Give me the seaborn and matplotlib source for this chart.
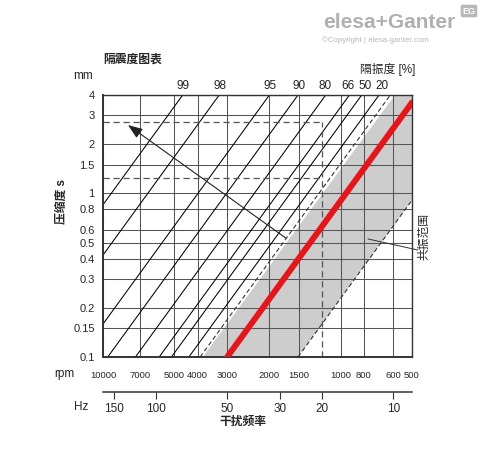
import numpy as np
import pandas as pd
import matplotlib
matplotlib.use("Agg")
import matplotlib.pyplot as plt
from matplotlib.ticker import NullLocator
import seaborn as sns

# datos
rpm_ticks = [10000, 7000, 5000, 4000, 3000, 2000, 1500, 1000, 800, 600, 500]
s_ticks = [0.1, 0.15, 0.2, 0.3, 0.4, 0.5, 0.6, 0.8, 1, 1.5, 2, 3, 4]
s_labels = ['0.1', '0.15', '0.2', '0.3', '0.4', '0.5', '0.6', '0.8', '1', '1.5', '2', '3', '4']
hz_ticks = [150, 100, 50, 30, 20, 10]

# lineas de aislamiento (inicio y fin)
iso_names = ['99', '98', '95', '90', '80', '66', '50', '20']
iso_rpm_a = [10000, 10000, 10000, 9550, 7300, 5800, 5150, 4350]
iso_s_a = [0.853, 0.420, 0.159, 0.1, 0.1, 0.1, 0.1, 0.1]
iso_rpm_b = [4617, 3241, 1992, 1510, 1154, 917, 814, 688]
iso_s_b = [4, 4, 4, 4, 4, 4, 4, 4]
iso_label_rpm = [4604, 3216, 1980, 1496, 1162, 930, 788, 669]

# linea de resonancia y banda
red_rpm = [3000, 500]
red_s = [0.1, 3.6]
dash_lo_rpm = [3900, 617]
dash_lo_s = [0.1, 4]
dash_hi_rpm = [1510, 500]
dash_hi_s = [0.1, 0.91]
band_rpm = [3800, 1510, 500, 500, 590]
band_s = [0.1, 0.1, 0.91, 4, 4]

# ejemplo (lineas punteadas y flecha)
ex_rpm = 1200
ex_s = [2.75, 1.25]
arrow_from = (1700, 0.534)
arrow_to = (7850, 2.62)
res_point = (766, 0.527)
res_text_end = (472, 0.451)

sns.set_style("white")
plt.rcParams['font.family'] = ['Liberation Sans', 'Noto Sans CJK SC', 'DejaVu Sans']

W, H = 488, 454
fig = plt.figure(figsize=(W / 100, H / 100), dpi=100)
ax = fig.add_axes([103 / W, 97 / H, 309 / W, 262 / H])

def fx(px):
    return px / W

def fy(py):
    return 1 - py / H

# banda gris
ax.fill(band_rpm, band_s, color='#cdcdcd', lw=0, zorder=0.5)

# lineas diagonales
rows = []
for i, n in enumerate(iso_names):
    rows.append({'rpm': iso_rpm_a[i], 's': iso_s_a[i], 'linea': n})
    rows.append({'rpm': iso_rpm_b[i], 's': iso_s_b[i], 'linea': n})
iso_df = pd.DataFrame(rows)
sns.lineplot(data=iso_df, x='rpm', y='s', units='linea', estimator=None,
             sort=False, color='black', lw=0.75, ax=ax, zorder=2)

ax.plot(dash_lo_rpm, dash_lo_s, color='#333333', lw=0.8, ls=(0, (4, 2.5)), zorder=2)
ax.plot(dash_hi_rpm, dash_hi_s, color='#333333', lw=0.8, ls=(0, (4, 2.5)), zorder=2)

sns.lineplot(x=red_rpm, y=red_s, color='#e3161b', lw=4.3, ax=ax, zorder=3)

# punteadas de ejemplo
for v in ex_s:
    ax.plot([10000, ex_rpm], [v, v], color='#555555', lw=0.9, ls=(0, (5, 3)), zorder=2)
ax.plot([ex_rpm, ex_rpm], [0.1, ex_s[0]], color='#555555', lw=0.9, ls=(0, (5, 3)), zorder=2)

ax.annotate('', xy=arrow_to, xytext=arrow_from, xycoords='data', textcoords='data',
            arrowprops=dict(arrowstyle='-|>,head_length=0.8,head_width=0.3',
                            color='#222222', lw=0.8, mutation_scale=11,
                            shrinkA=0, shrinkB=0), zorder=4)

ax.plot([res_point[0], res_text_end[0]], [res_point[1], res_text_end[1]],
        color='#333333', lw=0.7, clip_on=False, zorder=4)

ax.set_xscale('log')
ax.set_yscale('log')
ax.set_xlim(10000, 500)
ax.set_ylim(0.1, 4)
ax.set_xticks(rpm_ticks)
ax.set_xticklabels([str(t) for t in rpm_ticks], fontsize=6.8)
ax.set_yticks(s_ticks)
ax.set_yticklabels(s_labels, fontsize=8)
ax.xaxis.set_minor_locator(NullLocator())
ax.yaxis.set_minor_locator(NullLocator())
ax.tick_params(axis='x', length=0, pad=10)
ax.tick_params(axis='y', length=0, pad=6)
ax.set_xlabel('')
ax.set_ylabel('')
ax.grid(True, color='#555555', lw=0.75)
for side in ['left', 'bottom']:
    ax.spines[side].set_linewidth(1.4)
    ax.spines[side].set_color('#333333')
for side in ['top', 'right']:
    ax.spines[side].set_linewidth(1.0)
    ax.spines[side].set_color('#333333')

# eje Hz
sec = ax.secondary_xaxis(-35 / 262, functions=(lambda x: x / 60, lambda x: x * 60))
sec.set_xticks(hz_ticks)
sec.set_xticklabels([str(t) for t in hz_ticks], fontsize=8.5)
sec.xaxis.set_minor_locator(NullLocator())
sec.tick_params(axis='x', length=5, width=0.8, color='#333333', pad=3)
sec.spines['bottom'].set_linewidth(1.1)
sec.spines['bottom'].set_color('#333333')

# etiquetas de aislamiento
for n, r in zip(iso_names, iso_label_rpm):
    ax.text(r, 1 + 3 / 262, n, transform=ax.get_xaxis_transform(), ha='center',
            va='bottom', fontsize=8.5, color='#222222')

fig.text(fx(103), fy(60), '隔震度图表', fontsize=8.5, fontweight='bold', ha='left', va='center')
fig.text(fx(415), fy(69), '隔振度 [%]', fontsize=8.5, ha='right', va='center')
fig.text(fx(83), fy(76), 'mm', fontsize=8.5, ha='center', va='center')
fig.text(fx(64), fy(374), 'rpm', fontsize=8.5, ha='center', va='center')
fig.text(fx(81), fy(407), 'Hz', fontsize=8.5, ha='center', va='center')
fig.text(fx(62), fy(201), '压缩度 s', fontsize=8.5, fontweight='bold', rotation=90,
         ha='center', va='center')
fig.text(fx(243), fy(422), '干扰频率', fontsize=8.5, fontweight='bold', ha='center', va='center')
fig.text(fx(424), fy(236), '共振范围', fontsize=8.5, rotation=90, ha='center', va='center')

# logo
fig.text(fx(455), fy(23), 'elesa+Ganter', fontsize=15, fontweight='bold', color='#b0b0b0',
         ha='right', va='center')
fig.text(fx(322), fy(40), '©Copyright | elesa-ganter.com', fontsize=5.7, color='#b8b8b8',
         ha='left', va='center')
fig.text(fx(469), fy(11), 'EG', fontsize=6.5, fontweight='bold', color='white', ha='center',
         va='center', bbox=dict(boxstyle='round,pad=0.2', fc='#b8b8b8', ec='none'))

fig.savefig('out.png', dpi=100)
